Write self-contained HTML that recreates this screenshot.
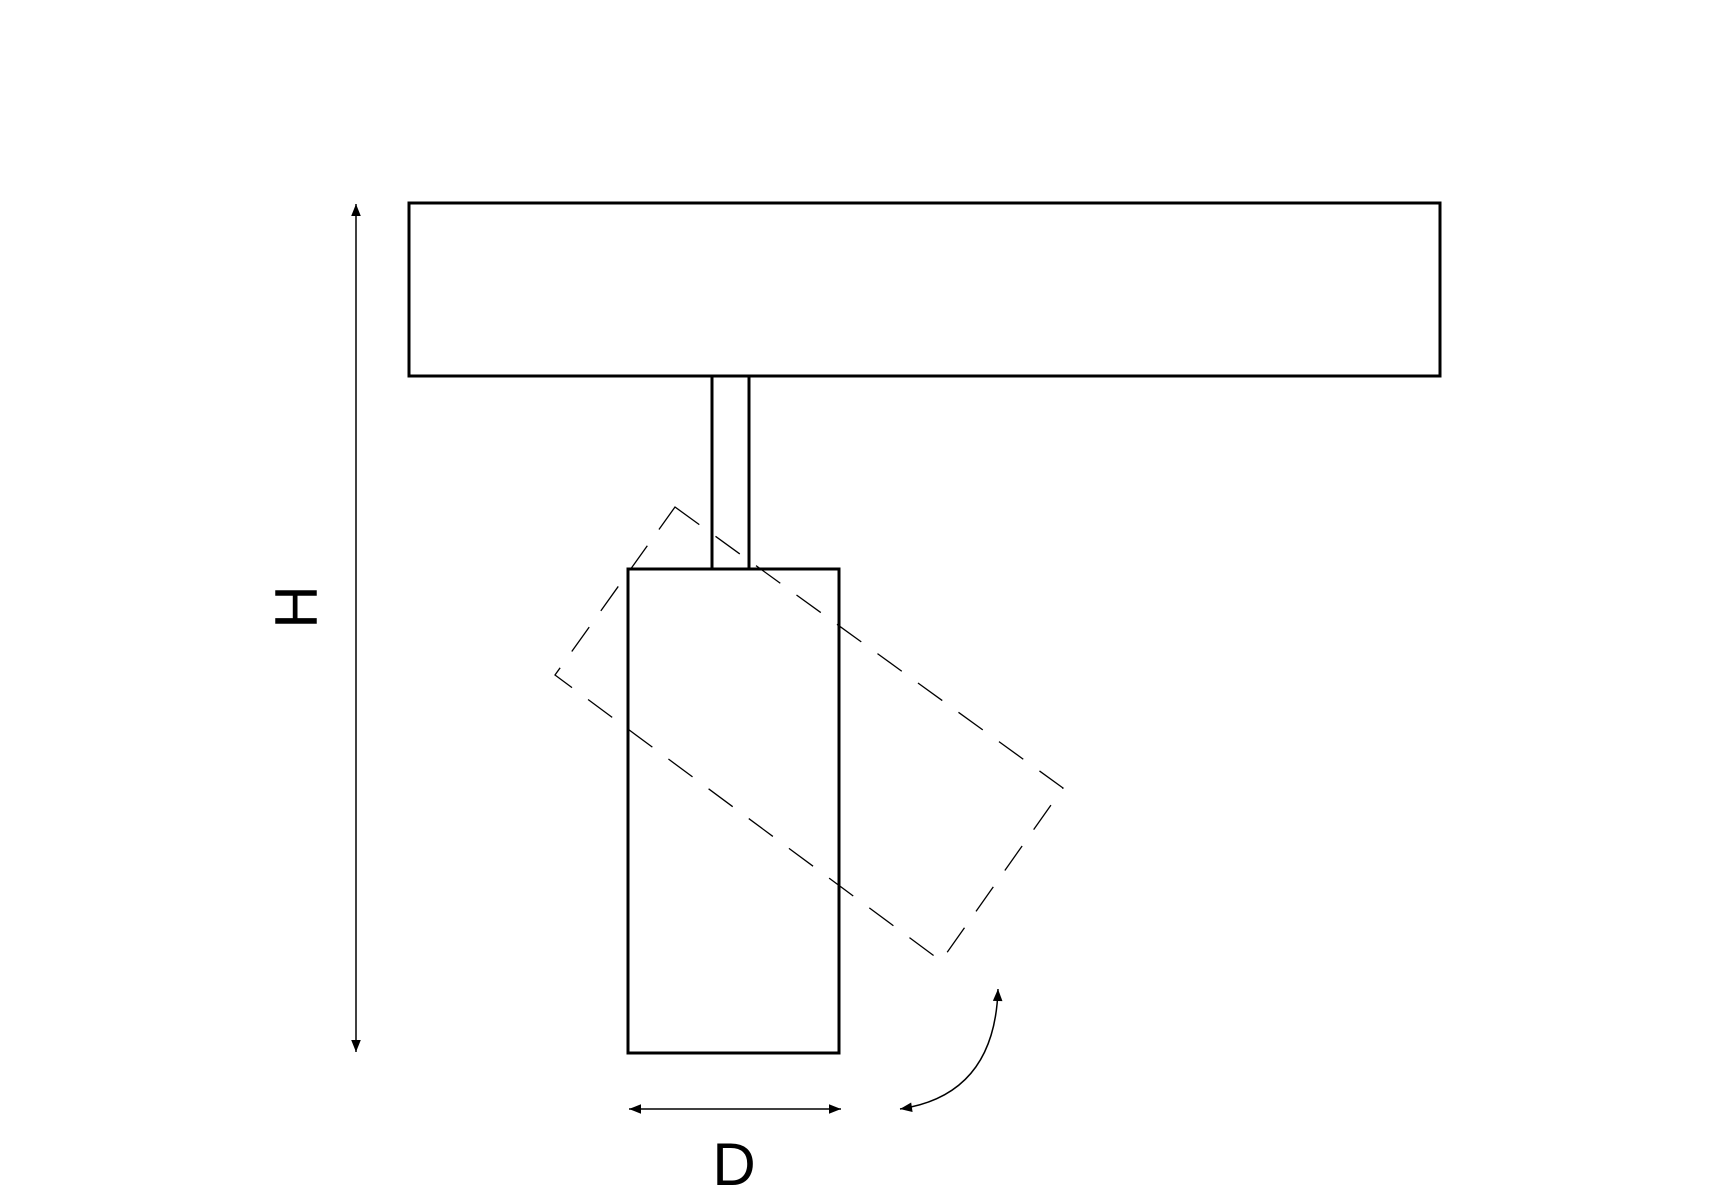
<!DOCTYPE html>
<html><head><style>body{margin:0;background:#fff}svg{display:block}</style></head><body>
<svg width="1715" height="1200" viewBox="0 0 1715 1200" xmlns="http://www.w3.org/2000/svg">
<defs>
<marker id="a" viewBox="0 0 10 10" refX="10" refY="5" markerWidth="28" markerHeight="12" markerUnits="userSpaceOnUse" orient="auto-start-reverse"><path d="M0,1 L10,5 L0,9 Z" fill="#000"/></marker>
</defs>
<g fill="none" stroke="#000" stroke-width="3">
<rect x="409" y="203" width="1031" height="173"/>
<line x1="712" y1="376" x2="712" y2="569"/>
<line x1="749" y1="376" x2="749" y2="569"/>
<rect x="628" y="569" width="211" height="484"/>
</g>
<polygon points="675,507 1063,788 941,961 555,675" fill="none" stroke="#000" stroke-width="1.3" stroke-dasharray="30,20"/>
<g stroke="#000" stroke-width="1.5" fill="none">
<line x1="356" y1="204" x2="356" y2="1052" marker-start="url(#a)" marker-end="url(#a)"/>
<line x1="629" y1="1109" x2="841" y2="1109" marker-start="url(#a)" marker-end="url(#a)"/>
<path d="M900,1109 Q995,1095 998,989" marker-start="url(#a)" marker-end="url(#a)"/>
</g>
<text x="734" y="1185" font-family="Liberation Sans, sans-serif" font-size="60" text-anchor="middle">D</text>
<text transform="translate(317,607) rotate(-90)" font-family="Liberation Sans, sans-serif" font-size="60" text-anchor="middle">H</text>
</svg>
</body></html>
